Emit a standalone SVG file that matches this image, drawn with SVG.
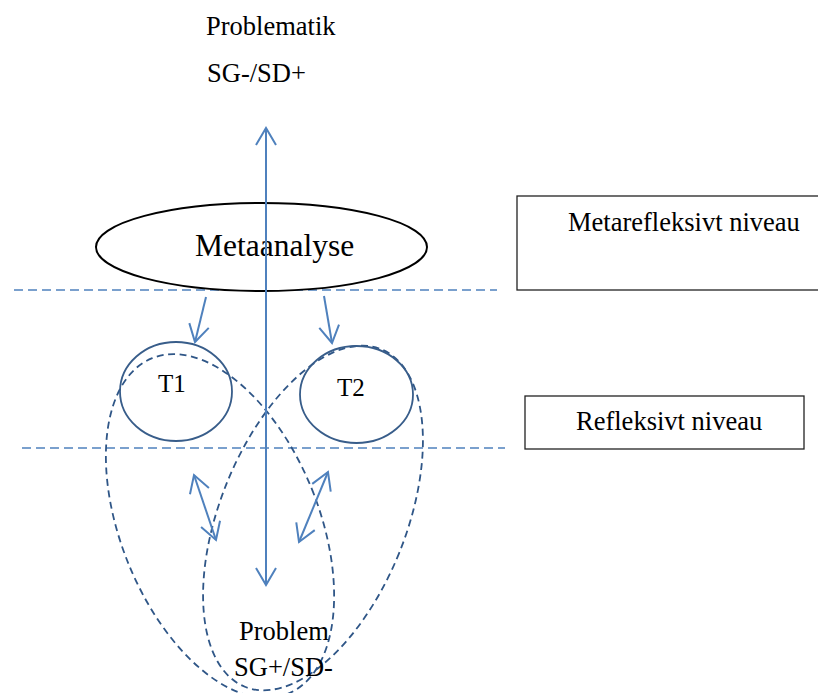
<svg xmlns="http://www.w3.org/2000/svg" width="818" height="693" viewBox="0 0 818 693">
<style>
text{font-family:"Liberation Serif","Times New Roman",serif;font-size:26.5px;fill:#000}
.hd{stroke:#4f81bd;stroke-width:1.6;stroke-dasharray:9 5;fill:none}
.de{stroke:#2f5687;stroke-width:1.8;stroke-dasharray:7 4.5;fill:none}
.te{stroke:#385d8a;stroke-width:1.8;fill:none}
.ar{stroke:#4f81bd;stroke-width:2;fill:none;marker-end:url(#ah)}
.ar2{stroke:#4f81bd;stroke-width:2;fill:none;marker-end:url(#ah);marker-start:url(#ah)}
.bx{stroke:#222;stroke-width:1.3;fill:#fff}
</style>
<defs>
<marker id="ah" viewBox="-20 -12 22 24" refX="0" refY="0" markerWidth="22" markerHeight="24" markerUnits="userSpaceOnUse" orient="auto-start-reverse">
<path d="M-17,-10 L0,0 L-17,10" fill="none" stroke="#4f81bd" stroke-width="2"/>
</marker>
</defs>
<rect width="818" height="693" fill="#fff"/>
<g id="labels-top">
<text x="206" y="35">Problematik</text>
<text x="207" y="82">SG-/SD+</text>
</g>
<g id="box-meta">
<rect class="bx" x="517" y="196" width="320" height="94"/>
<text x="568" y="231">Metarefleksivt niveau</text>
</g>
<g id="box-refl">
<rect class="bx" x="525" y="396" width="279" height="53"/>
<text x="576" y="430">Refleksivt niveau</text>
</g>
<g id="levels">
<line class="hd" x1="14" y1="290" x2="497" y2="290"/>
<line class="hd" x1="22" y1="448" x2="505" y2="448"/>
</g>
<g id="metaanalyse">
<ellipse cx="261.5" cy="247" rx="165.5" ry="44" fill="#fff" stroke="#000" stroke-width="2"/>
<text x="195" y="256" style="font-size:31.5px">Metaanalyse</text>
</g>
<g id="loops">
<ellipse class="de" cx="220" cy="526" rx="99" ry="181" transform="rotate(-22 220 526)"/>
<ellipse class="de" cx="313" cy="518" rx="93" ry="182" transform="rotate(22 313 518)"/>
</g>
<g id="T1">
<ellipse class="te" cx="176" cy="391.5" rx="56" ry="49.5"/>
<text x="158" y="392" style="font-size:25px">T1</text>
</g>
<g id="T2">
<ellipse class="te" cx="356.5" cy="394.5" rx="56.5" ry="48.5"/>
<text x="337" y="396" style="font-size:25px">T2</text>
</g>
<g id="connectors">
<line class="ar2" x1="266" y1="585" x2="266" y2="128"/>
<line class="ar" x1="206" y1="297" x2="195" y2="342"/>
<line class="ar" x1="324" y1="296" x2="332" y2="343"/>
<line class="ar2" x1="194" y1="475" x2="216" y2="540"/>
<line class="ar2" x1="328" y1="472" x2="299" y2="542"/>
</g>
<g id="labels-bottom">
<text x="239" y="640">Problem</text>
<text x="234" y="676">SG+/SD-</text>
</g>
</svg>
